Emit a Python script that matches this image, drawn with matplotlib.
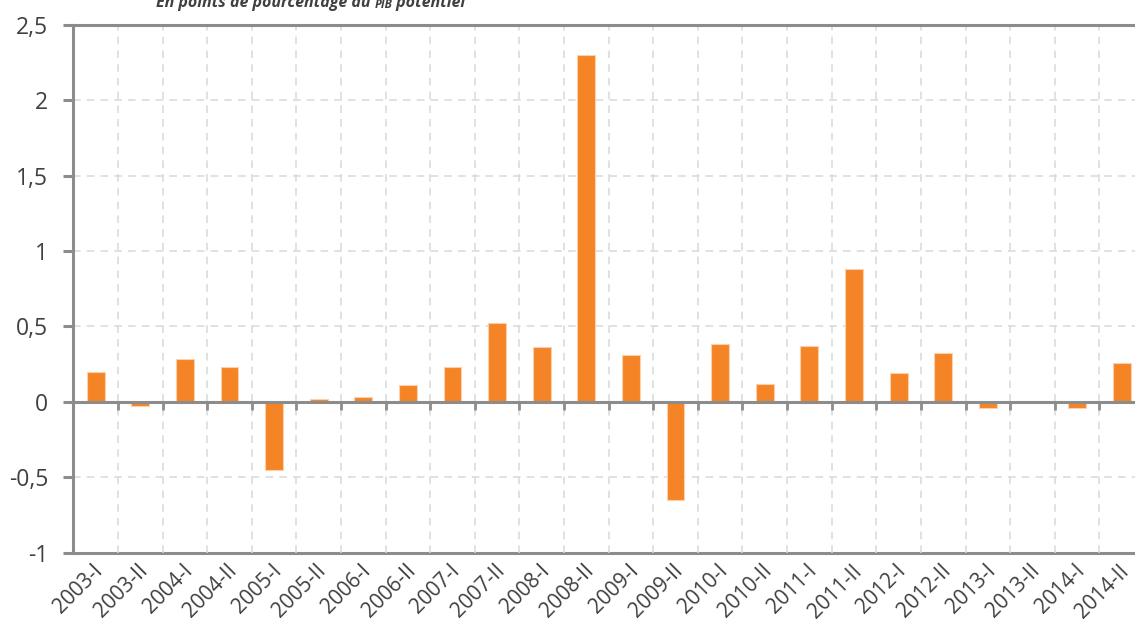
import matplotlib
matplotlib.use("Agg")
import matplotlib.pyplot as plt
import numpy as np

# Half-year periods and the fiscal impulse, in points of potential GDP
periods = [
    "2003-I", "2003-II", "2004-I", "2004-II", "2005-I", "2005-II",
    "2006-I", "2006-II", "2007-I", "2007-II", "2008-I", "2008-II",
    "2009-I", "2009-II", "2010-I", "2010-II", "2011-I", "2011-II",
    "2012-I", "2012-II", "2013-I", "2013-II", "2014-I", "2014-II",
]
impulse = [
    0.20, -0.03, 0.28, 0.23, -0.45, 0.02,
    0.03, 0.11, 0.23, 0.52, 0.36, 2.30,
    0.31, -0.65, 0.38, 0.12, 0.37, 0.88,
    0.19, 0.32, -0.04, 0.00, -0.04, 0.26,
]
y_ticks = [-1, -0.5, 0, 0.5, 1, 1.5, 2, 2.5]
y_tick_labels = ["-1", "-0,5", "0", "0,5", "1", "1,5", "2", "2,5"]

AXIS_GREY = "#8c8c8c"
GRID_GREY = "#d9d9d9"
TEXT_GREY = "#404040"
BAR_ORANGE = "#f58426"
BAR_EDGE = "#fbd0aa"
FONT = ["Open Sans", "DejaVu Sans"]

plt.rcParams["font.family"] = FONT

fig = plt.figure(figsize=(11.35, 6.22), dpi=100)
ax = fig.add_axes([0.0646, 0.1117, 0.9433, 0.8486])

x = np.arange(len(periods))
ax.bar(x, impulse, width=0.4, color=BAR_ORANGE, edgecolor=BAR_EDGE,
       linewidth=0.8, zorder=2)

ax.set_xlim(-0.5, len(periods) - 0.5)
ax.set_ylim(min(y_ticks), max(y_ticks))

# category boundaries: grid and small tick marks on the zero axis
boundaries = np.arange(len(periods) - 1) + 0.5
ax.set_xticks(boundaries)
ax.set_xticklabels([])
ax.tick_params(axis="x", which="major", direction="out", length=6,
               width=2, color=AXIS_GREY)

ax.set_yticks(y_ticks)
ax.set_yticklabels(y_tick_labels, fontsize=16.5, color=TEXT_GREY)
ax.tick_params(axis="y", which="major", direction="out", length=7,
               width=2.2, color=AXIS_GREY, pad=11)

ax.grid(True, axis="both", color=GRID_GREY, linewidth=1.1,
        linestyle=(0, (5, 4)), zorder=0)
ax.set_axisbelow(True)
# the -1, 0 and 2,5 levels are drawn as solid axis lines instead
for tick, val in zip(ax.yaxis.get_major_ticks(), y_ticks):
    if val in (min(y_ticks), 0, max(y_ticks)):
        tick.gridline.set_visible(False)

for side in ("left", "top", "bottom"):
    ax.spines[side].set_color(AXIS_GREY)
    ax.spines[side].set_linewidth(2.2)
ax.spines["right"].set_visible(False)
ax.spines["bottom"].set_position(("data", 0))
ax.spines["bottom"].set_zorder(3)

# period labels along the bottom edge of the plot area
label_shift = 0.1
sec = ax.secondary_xaxis("bottom")
sec.set_xticks(x + label_shift)
sec.set_xticklabels(periods, rotation=45, ha="right", va="center",
                    rotation_mode="anchor", fontsize=15, color=TEXT_GREY)
sec.tick_params(axis="x", length=0, pad=11)
sec.spines["bottom"].set_color(AXIS_GREY)
sec.spines["bottom"].set_linewidth(2.2)

# subtitle
t1 = fig.text(156 / 1135, 1 - 7 / 622, "En points de pourcentage du ",
              fontsize=11.5, fontweight="bold", fontstyle="italic",
              color=TEXT_GREY, ha="left", va="baseline")
t2 = ax.annotate("PIB", xy=(1, 0), xycoords=t1, fontsize=8.5,
                 fontweight="bold", fontstyle="italic", color=TEXT_GREY,
                 ha="left", va="bottom", annotation_clip=False)
ax.annotate(" potentiel", xy=(1, 0), xycoords=t2, fontsize=11.5,
            fontweight="bold", fontstyle="italic", color=TEXT_GREY,
            ha="left", va="bottom", annotation_clip=False)

fig.savefig("out.png", dpi=100)
